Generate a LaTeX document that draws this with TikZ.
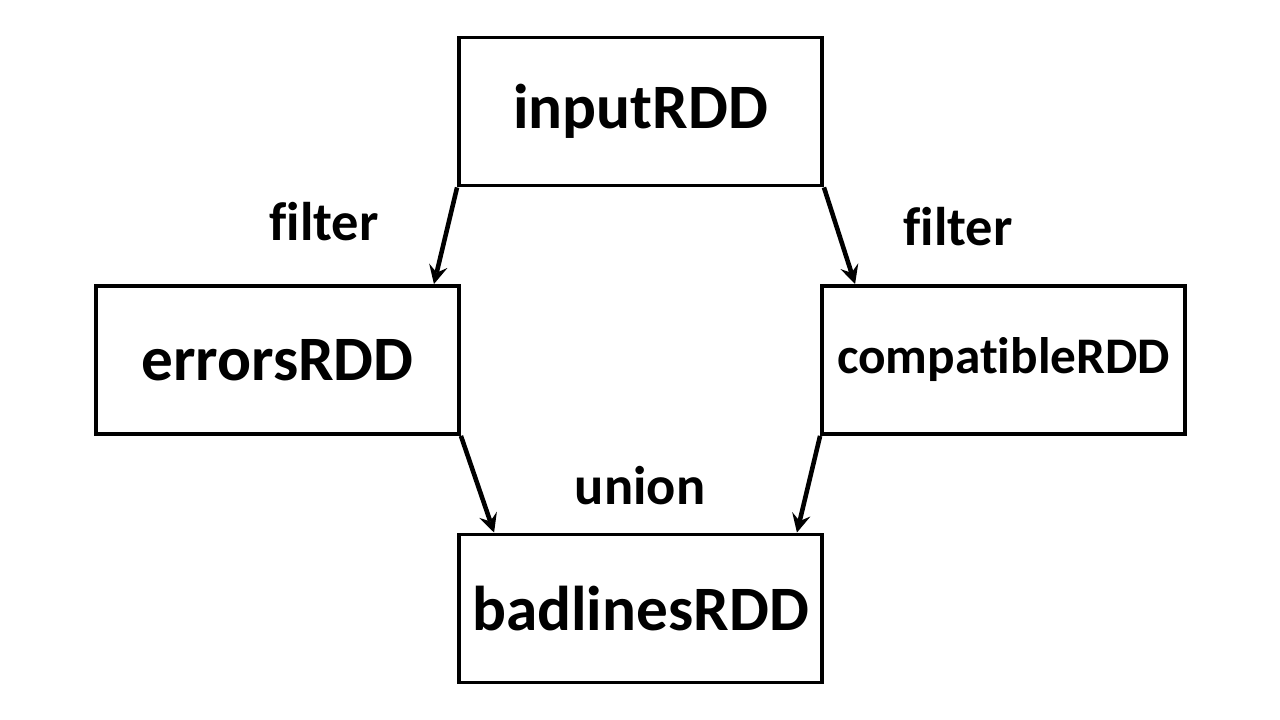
\documentclass[tikz,border=0pt]{standalone}
\usepackage{fontspec}
\setmainfont[Ligatures=NoCommon]{Carlito}
\usetikzlibrary{arrows, positioning}
\tikzstyle{arrow}   = [line width=1.3pt,->,>=stealth]
\tikzstyle{rdd}     = [draw, line width=1.1pt, minimum width=3.63cm, minimum height=1.48cm, inner sep=0pt, align=center, font=\bfseries\fontsize{18}{20}\selectfont]
\tikzstyle{op}      = [font=\bfseries\fontsize{15.5}{18}\selectfont]

\begin{document}
\begin{tikzpicture}[scale=1]
\useasboundingbox (0,0) rectangle (12.8,7.2);

\node[rdd] (input)      at (6.405,6.085) {inputRDD};
\node[rdd] (errors)     at (2.775,3.6)   {errorsRDD};
\node[rdd,font=\bfseries\fontsize{14.6}{17}\selectfont] (compatible) at (10.035,3.6) {compatibleRDD};
\node[rdd] (badlines)   at (6.405,1.115) {badlinesRDD};

\node[op] (filterL) at (3.24,4.98) {filter};
\node[op] (filterR) at (9.58,4.93) {filter};
\node[op] (union)   at (6.40,2.34) {union};

\draw[arrow] (input.south west) -- ([xshift=-0.27cm]errors.north east);
\draw[arrow] (input.south east) -- ([xshift=0.35cm]compatible.north west);

\draw[arrow] (errors.south east) -- ([xshift=0.37cm]badlines.north west);
\draw[arrow] (compatible.south west) -- ([xshift=-0.27cm]badlines.north east);

\end{tikzpicture}
\end{document}
